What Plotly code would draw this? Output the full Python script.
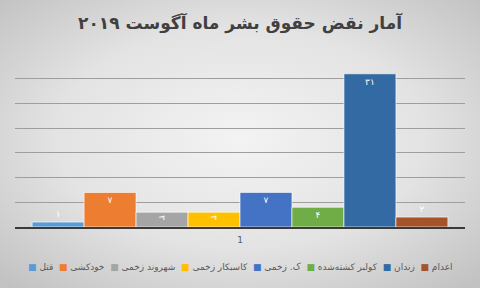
import base64
import plotly.graph_objects as go

# ---- data ----
CATEGORIES = ["1"]
SERIES_NAMES = ["قتل", "خودکشی", "شهروند زخمی", "کاسبکار زخمی", "ک. زخمی",
                "کولبر کشته‌شده", "زندان", "اعدام"]
SERIES_VALUES = [1, 7, 3, 3, 7, 4, 31, 2]
SERIES_COLORS = ["#5b9bd5", "#ed7d31", "#a5a5a5", "#ffc000", "#4472c4",
                 "#70ad47", "#336aa3", "#a5542a"]
TITLE = "آمار نقض حقوق بشر ماه آگوست ۲۰۱۹"
Y_MAX = 35
Y_STEP = 5

FA_DIGITS = str.maketrans("0123456789", "۰۱۲۳۴۵۶۷۸۹")


def fa(n):
    return str(n).translate(FA_DIGITS)


W, H = 480, 288
ML, MR, MT, MB = 15, 15, 54, 61
PW, PH = W - ML - MR, H - MT - MB

FONT = "DejaVu Sans, Noto Sans, sans-serif"

fig = go.Figure()
for name, val, col in zip(SERIES_NAMES, SERIES_VALUES, SERIES_COLORS):
    small = val < 3
    fig.add_trace(go.Bar(
        x=CATEGORIES, y=[val], name=name, showlegend=False,
        marker=dict(color=col, line=dict(color="rgba(255,255,255,0.8)", width=0.8)),
        text=[fa(val)],
        textposition="outside" if small else "inside",
        insidetextanchor="end",
        textfont=dict(color="white", size=9, family=FONT),
        outsidetextfont=dict(color="white", size=9, family=FONT),
        insidetextfont=dict(color="white", size=9, family=FONT),
        cliponaxis=False,
        hoverinfo="skip",
    ))

# background gradient
svg = f'''<svg xmlns="http://www.w3.org/2000/svg" width="{W}" height="{H}" viewBox="0 0 {W} {H}" preserveAspectRatio="none">
<defs><radialGradient id="g" cx="50%" cy="48%" r="70%" fx="50%" fy="48%">
<stop offset="0" stop-color="#f3f3f3"/><stop offset="0.55" stop-color="#e3e3e3"/><stop offset="1" stop-color="#c2c2c2"/>
</radialGradient></defs>
<rect width="{W}" height="{H}" fill="url(#g)"/></svg>'''
src = "data:image/svg+xml;base64," + base64.b64encode(svg.encode()).decode()

images = [dict(source=src, xref="paper", yref="paper",
               x=-ML / PW, y=1 + MT / PH, sizex=W / PW, sizey=H / PH,
               sizing="stretch", xanchor="left", yanchor="top", layer="below")]

# manual legend as one line of text: coloured square, then name, left -> right
LRM = "\u200e"
NBSP = "\u00a0"
items = [f'<span style="color:{c}">■</span>{NBSP}{n}{LRM}'
         for n, c in zip(SERIES_NAMES, SERIES_COLORS)]
legend_text = (NBSP * 2).join(items)
leg_y = (H - MB - 267) / PH
annotations = [dict(xref="paper", yref="paper", x=0.5, y=leg_y,
                    xanchor="center", yanchor="middle", text=legend_text,
                    showarrow=False,
                    font=dict(size=9, color="#595959", family=FONT))]

fig.update_layout(
    width=W, height=H,
    margin=dict(l=ML, r=MR, t=MT, b=MB, pad=0),
    paper_bgcolor="#dcdcdc", plot_bgcolor="rgba(0,0,0,0)",
    title=dict(text=f"<b>{TITLE}</b>", x=0.5, xanchor="center", y=1 - 23 / H,
               yanchor="middle",
               font=dict(size=17, color="#404040", family=FONT)),
    barmode="group", bargap=0.076, bargroupgap=0,
    showlegend=False,
    images=images, annotations=annotations,
    uniformtext=dict(minsize=9, mode="show"),
    xaxis=dict(type="category", showline=True, linecolor="#3a3a3a", linewidth=2,
               ticks="", showgrid=False, ticklabelstandoff=3,
               tickfont=dict(size=9, color="#595959", family=FONT)),
    yaxis=dict(range=[0, Y_MAX], dtick=Y_STEP, showticklabels=False,
               showgrid=True, gridcolor="#9e9e9e", gridwidth=1,
               zeroline=False, showline=False, ticks=""),
)

fig.write_html("out.html")
